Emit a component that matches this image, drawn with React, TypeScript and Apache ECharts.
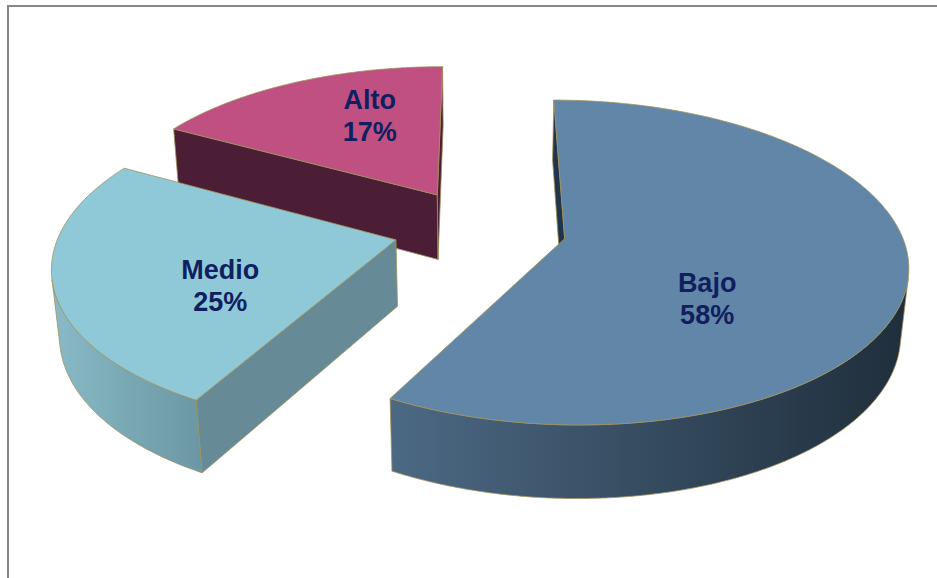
import React, { useEffect, useRef } from "react";
import * as echarts from "echarts";

// ---- data ----
const categories = ["Bajo", "Medio", "Alto"];
const values = [58, 25, 17];

// ---- styles ----
const topColors = ["#6286a8", "#8fc9d8", "#c05082"];
const wallFrom = ["#4c6984", "#89bac7", "#4b1e36"];
const wallTo = ["#1f2e3b", "#6a97a3", "#4b1e36"];
const cutColors = ["#22344a", "#668b97", "#4b1e36"];
const labelNudge = [
  [-26, 40],
  [-8, 23],
  [8, -20],
];
const EDGE = "#a0925c";
const LABEL_COLOR = "#10205f";

// ---- 3D projection parameters ----
const XC = 480;
const YC = 294.5;
const R = 329;
const SIN_T = 0.494;
const COS_T = Math.sqrt(1 - SIN_T * SIN_T);
const H = 74.5;
const DIST = 2000;
const EXPLODE = 85;

function proj(X: number, Z: number, Y: number): number[] {
  const dz = Z * COS_T + Y * SIN_T;
  const s = DIST / (DIST - dz);
  return [XC + X * s, YC + (Z * SIN_T - Y * COS_T) * s];
}
const toRad = (d: number) => (d * Math.PI) / 180;

export default function App() {
  const ref = useRef<HTMLDivElement>(null);
  useEffect(() => {
    if (!ref.current) return;
    const chart = echarts.init(ref.current, undefined, { renderer: "svg" });
    const total = values.reduce((a, b) => a + b, 0);
    const starts: number[] = [];
    let acc = 0;
    values.forEach((v) => {
      starts.push(acc);
      acc += v;
    });
    const camZ = DIST * COS_T;

    // draw order: back slices first
    const depthOf = (i: number) => {
      const mid = toRad(((starts[i] + values[i] / 2) / total) * 360);
      return -Math.cos(mid);
    };
    const order = values.map((_, i) => i).sort((a, b) => depthOf(a) - depthOf(b));
    const rank: number[] = [];
    order.forEach((idx, r) => (rank[idx] = r));

    const renderItem = (params: any, api: any) => {
      const i = params.dataIndex;
      const v = api.value(0) as number;
      const a0 = (starts[i] / total) * 360;
      const a1 = ((starts[i] + v) / total) * 360;
      const mid = toRad((a0 + a1) / 2);
      const ox = EXPLODE * Math.sin(mid);
      const oz = -EXPLODE * Math.cos(mid);
      const rim = (deg: number, Y: number, r = R) => {
        const t = toRad(deg);
        return proj(ox + r * Math.sin(t), oz - r * Math.cos(t), Y);
      };
      const visWall = (deg: number) => {
        const t = toRad(deg);
        const X = ox + R * Math.sin(t);
        const Z = oz - R * Math.cos(t);
        return Math.sin(t) * (0 - X) - Math.cos(t) * (camZ - Z) > 0;
      };
      const n = Math.max(2, Math.ceil((a1 - a0) * 2));
      const angs: number[] = [];
      for (let k = 0; k <= n; k++) angs.push(a0 + ((a1 - a0) * k) / n);
      const base = rank[i] * 10;
      const children: any[] = [];
      const edgeStyle = { stroke: EDGE, lineWidth: 0.8, lineJoin: "round" };

      // outer wall
      let run: number[] = [];
      const flush = () => {
        if (run.length >= 2) {
          const top = run.map((d) => rim(d, H));
          const bot = run
            .slice()
            .reverse()
            .map((d) => rim(d, 0));
          children.push({
            type: "polygon",
            z2: base + 1,
            shape: { points: top.concat(bot) },
            style: {
              fill: new echarts.graphic.LinearGradient(0, 0, 1, 0, [
                { offset: 0, color: wallFrom[i] },
                { offset: 1, color: wallTo[i] },
              ]),
              ...edgeStyle,
            },
          });
        }
        run = [];
      };
      for (let k = 0; k < n; k++) {
        if (visWall((angs[k] + angs[k + 1]) / 2)) {
          if (run.length === 0) run.push(angs[k]);
          run.push(angs[k + 1]);
        } else flush();
      }
      flush();

      // radial cut faces
      const apexT = proj(ox, oz, H);
      const apexB = proj(ox, oz, 0);
      const faces = [
        { deg: a0, nx: -Math.cos(toRad(a0)), nz: -Math.sin(toRad(a0)) },
        { deg: a1, nx: Math.cos(toRad(a1)), nz: Math.sin(toRad(a1)) },
      ];
      faces.forEach((f) => {
        const dot = f.nx * (0 - ox) + f.nz * (camZ - oz);
        if (dot > 0) {
          children.push({
            type: "polygon",
            z2: base + 2,
            shape: { points: [apexT, rim(f.deg, H), rim(f.deg, 0), apexB] },
            style: { fill: cutColors[i], ...edgeStyle },
          });
        }
      });

      // top face
      const topPts = [apexT].concat(angs.map((d) => rim(d, H)));
      children.push({
        type: "polygon",
        z2: base + 3,
        shape: { points: topPts },
        style: { fill: topColors[i], ...edgeStyle },
      });

      // label
      const lp = rim((a0 + a1) / 2, H, R / 2);
      const pct = Math.round((v / total) * 100);
      children.push({
        type: "text",
        z2: 100,
        style: {
          text: `${categories[i]}\n${pct}%`,
          x: lp[0] + labelNudge[i][0],
          y: lp[1] + labelNudge[i][1],
          align: "center",
          verticalAlign: "middle",
          fill: LABEL_COLOR,
          fontFamily: '"Liberation Sans", Arial, sans-serif',
          fontWeight: "bold",
          fontSize: 27,
          lineHeight: 32,
        },
      });

      return { type: "group", children };
    };

    chart.setOption({
      animation: false,
      backgroundColor: "#ffffff",
      graphic: [
        {
          type: "rect",
          shape: { x: 8, y: 6, width: 1000, height: 1000 },
          style: { fill: "none", stroke: "#878787", lineWidth: 2 },
          silent: true,
        },
      ],
      series: [
        {
          type: "custom",
          coordinateSystem: "none",
          renderItem,
          data: values.map((v, i) => ({ name: categories[i], value: v })),
        },
      ],
    });
    return () => chart.dispose();
  }, []);
  return (
    <div
      ref={ref}
      style={{ position: "absolute", left: 0, top: 0, width: 937, height: 578 }}
    />
  );
}
